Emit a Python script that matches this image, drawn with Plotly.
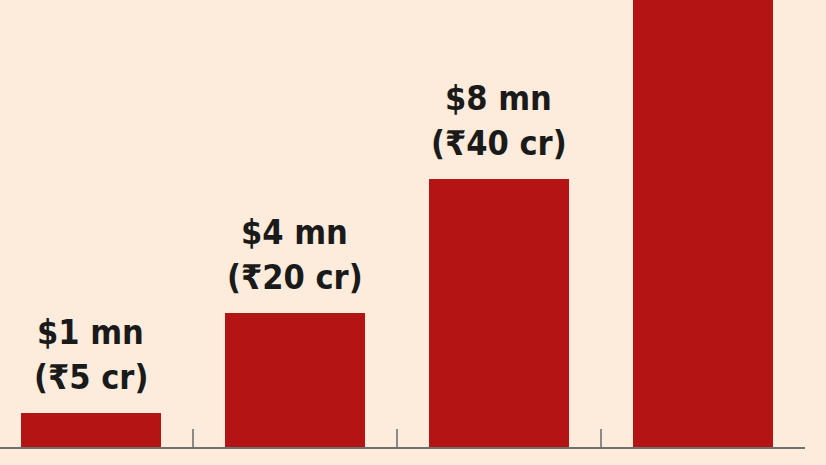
import plotly.graph_objects as go

categories = [0, 1, 2, 3]
values_usd_mn = [1, 4, 8, 16]
label_usd = ["$1 mn", "$4 mn", "$8 mn", "$16 mn"]
label_inr = ["(₹5 cr)", "(₹20 cr)", "(₹40 cr)", "(₹80 cr)"]
tick_positions = [0.5, 1.5, 2.5, 3.5]

BG = "#fdebdb"
BAR = "#b41414"
FONT = "Liberation Sans Narrow, DejaVu Sans Condensed, Arial Narrow, sans-serif"

fig = go.Figure()
fig.add_trace(go.Bar(
    x=categories, y=values_usd_mn, width=0.686,
    marker=dict(color=BAR, line=dict(width=0)),
    hoverinfo="skip",
))

for x, v, a, b in zip(categories, values_usd_mn, label_usd, label_inr):
    fig.add_annotation(
        x=x, y=v, xref="x", yref="y", text=f"<b>{b}</b>",
        showarrow=False, yanchor="bottom", xanchor="center",
        yshift=14, font=dict(family=FONT, size=34, color="#1a1a1a"),
    )
    fig.add_annotation(
        x=x, y=v, xref="x", yref="y", text=f"<b>{a}</b>",
        showarrow=False, yanchor="bottom", xanchor="center",
        yshift=59, font=dict(family=FONT, size=34, color="#1a1a1a"),
    )

fig.update_layout(
    width=826, height=465,
    margin=dict(l=0, r=21, t=0, b=18),
    paper_bgcolor=BG, plot_bgcolor=BG,
    showlegend=False, bargap=0,
)
fig.update_xaxes(
    range=[-0.446, 3.5], showgrid=False, zeroline=False,
    showline=True, linecolor="#707070", linewidth=2,
    tickmode="array", tickvals=tick_positions, ticktext=["", "", "", ""],
    ticks="inside", ticklen=18, tickcolor="#8a8a8a", tickwidth=2,
    fixedrange=True,
)
fig.update_yaxes(
    range=[0, 13.34], showgrid=False, zeroline=False, showline=False,
    showticklabels=False, ticks="", fixedrange=True,
)

fig.write_html(
    "out.html",
    config={"displayModeBar": False},
    post_script="document.body.style.margin='0';document.body.style.background='" + BG + "';",
)
